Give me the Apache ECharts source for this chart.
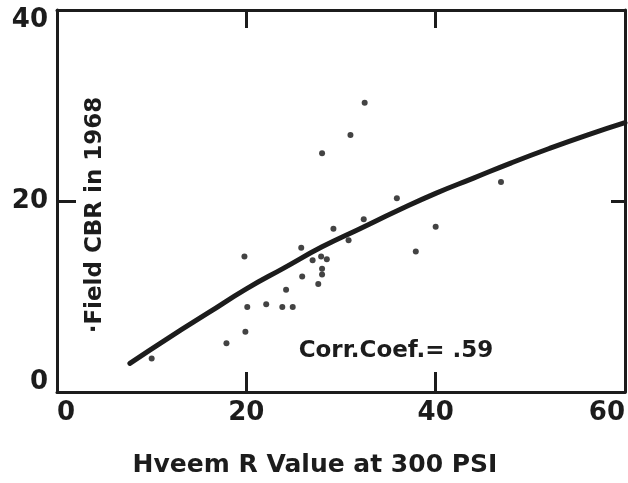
<!DOCTYPE html>
<html>
<head>
<meta charset="utf-8">
<script src="https://cdn.jsdelivr.net/npm/echarts@6/dist/echarts.min.js"></script>
<style>
  html, body { margin: 0; padding: 0; background: #ffffff; }
  #chart { width: 628px; height: 483px; }
</style>
</head>
<body>
<div id="chart"></div>
<script>
// Hveem R value at 300 psi for each test section
const rValues = [10.0, 17.9, 19.9, 19.8, 20.1, 22.1, 23.8, 24.9, 24.2, 25.8,
                 25.9, 27.0, 27.9, 28.5, 28.0, 28.0, 27.6, 29.2, 30.8, 32.4,
                 32.5, 31.0, 28.0, 35.9, 46.9, 40.0, 37.9];
// Field CBR measured in 1968 for the same sections
const cbrValues = [3.5, 5.1, 6.3, 14.2, 8.9, 9.2, 8.9, 8.9, 10.7, 15.1,
                   12.1, 13.8, 14.2, 13.9, 12.9, 12.3, 11.3, 17.1, 15.9, 18.1,
                   30.3, 26.9, 25.0, 20.3, 22.0, 17.3, 14.7];

// Fitted relationship, read as a set of points along the curve
const curveR   = [7.7, 12, 16, 20, 24, 28, 32, 36, 40, 44, 48, 52, 56, 60];
const curveCBR = [3.0, 5.8, 8.3, 10.8, 13.0, 15.2, 17.1, 19.0, 20.8, 22.4, 24.0, 25.5, 26.9, 28.2];

const xTicks = [0, 20, 40, 60];
const yTicks = [0, 20, 40];

const xTitle = 'Hveem R Value at 300 PSI';
const yTitle = '\u00B7Field CBR in 1968';
const corrNote = 'Corr.Coef.= .59';

const ink = '#1c1c1c';
const fontFamily = '"DejaVu Sans", sans-serif';

const chart = echarts.init(document.getElementById('chart'), null, { renderer: 'canvas' });

const scatterData = rValues.map((r, i) => [r, cbrValues[i]]);
const curveData = curveR.map((r, i) => [r, curveCBR[i]]);
const yMin = yTicks[0];
const yMax = yTicks[yTicks.length - 1];

// every side of the frame stays on its own edge of the grid
const frameLine = { show: true, onZero: false, lineStyle: { color: ink, width: 3 } };
const innerTick = (len) => ({ show: true, inside: true, length: len, lineStyle: { color: ink, width: 3 } });

chart.setOption({
  backgroundColor: '#ffffff',
  animation: false,
  grid: { left: 57, right: 3, top: 10, bottom: 91, containLabel: false },
  xAxis: [
    {
      type: 'value', position: 'bottom',
      min: xTicks[0], max: xTicks[xTicks.length - 1], interval: xTicks[1] - xTicks[0],
      axisLine: frameLine,
      axisTick: innerTick(20),
      splitLine: { show: false },
      axisLabel: {
        show: true, margin: 11, color: ink, fontFamily, fontWeight: 'bold', fontSize: 26, lineHeight: 20,
        alignMinLabel: 'left', alignMaxLabel: 'right'
      }
    },
    {
      type: 'value', position: 'top',
      min: xTicks[0], max: xTicks[xTicks.length - 1], interval: xTicks[1] - xTicks[0],
      axisLine: frameLine,
      axisTick: innerTick(18),
      splitLine: { show: false },
      axisLabel: { show: false }
    }
  ],
  yAxis: [
    {
      type: 'value', position: 'left',
      min: yMin, max: yMax, interval: yTicks[1] - yTicks[0],
      axisLine: frameLine,
      axisTick: innerTick(19),
      splitLine: { show: false },
      axisLabel: {
        show: true, margin: 9, color: ink, fontFamily, fontWeight: 'bold', fontSize: 26, lineHeight: 20,
        verticalAlignMinLabel: 'bottom', verticalAlignMaxLabel: 'top'
      }
    },
    {
      type: 'value', position: 'right',
      min: yMin, max: yMax, interval: yTicks[1] - yTicks[0],
      axisLine: frameLine,
      axisTick: innerTick(14),
      splitLine: { show: false },
      axisLabel: { show: false }
    }
  ],
  series: [
    {
      type: 'line',
      data: curveData,
      smooth: true,
      showSymbol: false,
      lineStyle: { color: ink, width: 5, cap: 'round' },
      z: 2
    },
    {
      type: 'scatter',
      data: scatterData,
      symbol: 'circle',
      symbolSize: 6,
      itemStyle: { color: '#141414' },
      z: 3
    }
  ],
  graphic: [
    {
      type: 'text', x: 315, y: 465,
      style: { text: xTitle, fill: ink, font: 'bold 25px ' + fontFamily, align: 'center', verticalAlign: 'middle' }
    },
    {
      type: 'text', x: 95, y: 215, rotation: Math.PI / 2,
      style: { text: yTitle, fill: ink, font: 'bold 23px ' + fontFamily, align: 'center', verticalAlign: 'middle' }
    },
    {
      type: 'text', x: 396, y: 351,
      style: { text: corrNote, fill: ink, font: 'bold 23px ' + fontFamily, align: 'center', verticalAlign: 'middle' }
    }
  ]
});
</script>
</body>
</html>
